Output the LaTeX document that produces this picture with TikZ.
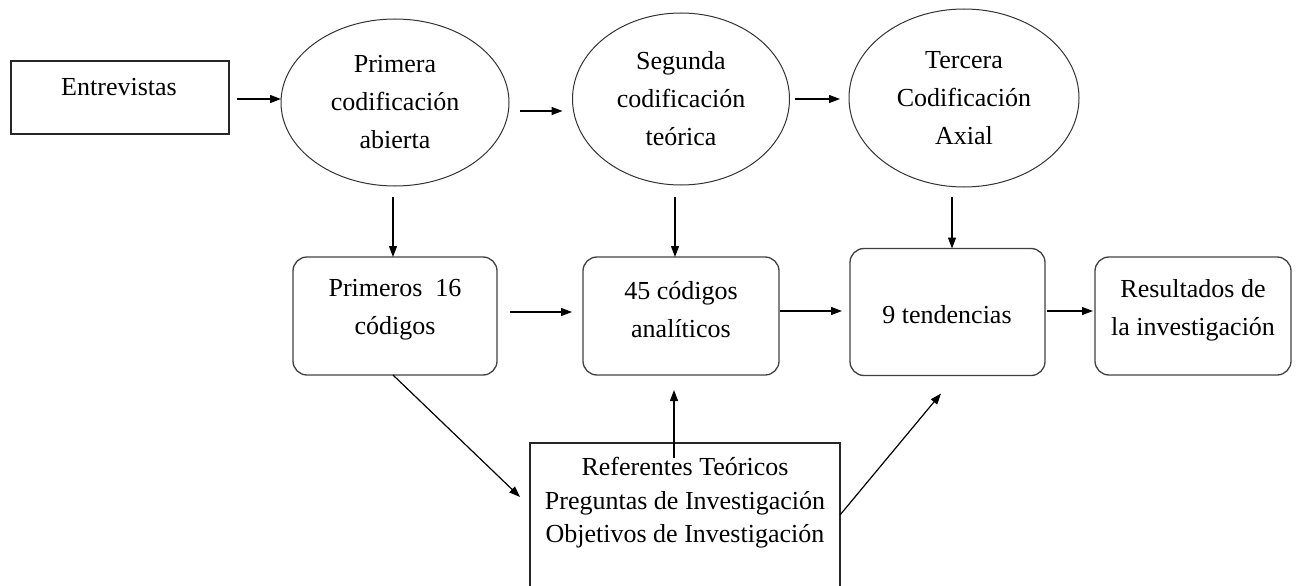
\documentclass[tikz,border=0pt]{standalone}
\usepackage{fontspec}
\setmainfont{Liberation Serif}
\usetikzlibrary{shapes.geometric,arrows.meta,calc}
\begin{document}
\begin{tikzpicture}[x=1pt,y=-1pt,
  every node/.style={inner sep=0pt, outer sep=0pt},
  txt/.style={align=center, font=\fontsize{26}{38}\selectfont},
  oval/.style={ellipse, draw=black!80, line width=1pt, align=center, font=\fontsize{26}{38}\selectfont},
  sqbox/.style={rectangle, draw=black!85, line width=1.3pt},
  rbox/.style={rectangle, rounded corners=14pt, draw=black!75, line width=1.3pt},
  arr/.style={draw=black, line width=1.2pt, -{Triangle[length=11pt,width=8pt]}}]
\useasboundingbox (0,0) rectangle (1296,586);
\clip (0,0) rectangle (1296,586);

% top row
\node[sqbox, minimum width=218pt, minimum height=73pt] (ent) at (120,97.5) {};
\node[txt] (tent) at (119,87) {Entrevistas};
\node[oval, minimum width=228pt, minimum height=167pt] (e1) at (395,102.5) {Primera\\codificación\\abierta};
\node[oval, minimum width=217pt, minimum height=172pt] (e2) at (681,99) {Segunda\\codificación\\teórica};
\node[oval, minimum width=230pt, minimum height=178pt] (e3) at (964,98) {Tercera\\Codificación\\Axial};

% middle row
\node[rbox, minimum width=204pt, minimum height=118pt] (prim) at (395,316) {};
\node[txt] (tprim) at (395,310) {Primeros\ \ 16\\códigos};
\node[rbox, minimum width=196pt, minimum height=118pt] (c45) at (681,316) {};
\node[txt] (tc45) at (681,310) {45 códigos\\analíticos};
\node[rbox, minimum width=195pt, minimum height=127pt] (ten) at (947.5,312) {};
\node[txt] (tten) at (947,315) {9 tendencias};
\node[rbox, minimum width=196pt, minimum height=118pt] (res) at (1193,316) {};
\node[txt] (tres) at (1193,310) {Resultados de\\la investigación};

% bottom box
\node[sqbox, minimum width=310pt, minimum height=157pt] (ref) at (685,521.5) {};
\node[txt, font=\fontsize{26}{33.5}\selectfont] (tref) at (685,503) {Referentes Teóricos\\Preguntas de Investigación\\Objetivos de Investigación};

% arrows
\draw[arr] ($(ent.east)+(8,1.5)$) -- ($(e1.west)+(0,-3.5)$);
\draw[arr] ($(e1.east)+(11,8.5)$) -- ($(e2.west)+(-10,12)$);
\draw[arr] ($(e2.east)+(5,0)$) -- ($(e3.west)+(-9,1)$);
\draw[arr] ($(e1.south)+(-2,11)$) -- ($(prim.north)+(-2,0)$);
\draw[arr] ($(e2.south)+(-6,12)$) -- ($(c45.north)+(-6,0)$);
\draw[arr] ($(e3.south)+(-12,10)$) -- ($(ten.north)+(4.5,0)$);
\draw[arr] ($(prim.east)+(13,-4)$) -- ($(c45.west)+(-11,-4)$);
\draw[arr] ($(c45.east)+(1,-5)$) -- ($(ten.west)+(-8,-1)$);
\draw[arr] ($(ten.east)+(2,-1)$) -- ($(res.west)+(-2,-5)$);
\draw[arr] ($(prim.south)+(-2,0)$) -- ($(ref.north west)+(-10,54)$);
\draw[arr] ($(ref.north)+(-11,15)$) -- ($(c45.south)+(-7,15)$);
\draw[arr] ($(ref.north east)+(0,72)$) -- ($(ten.south)+(-6.5,18)$);
\end{tikzpicture}
\end{document}
